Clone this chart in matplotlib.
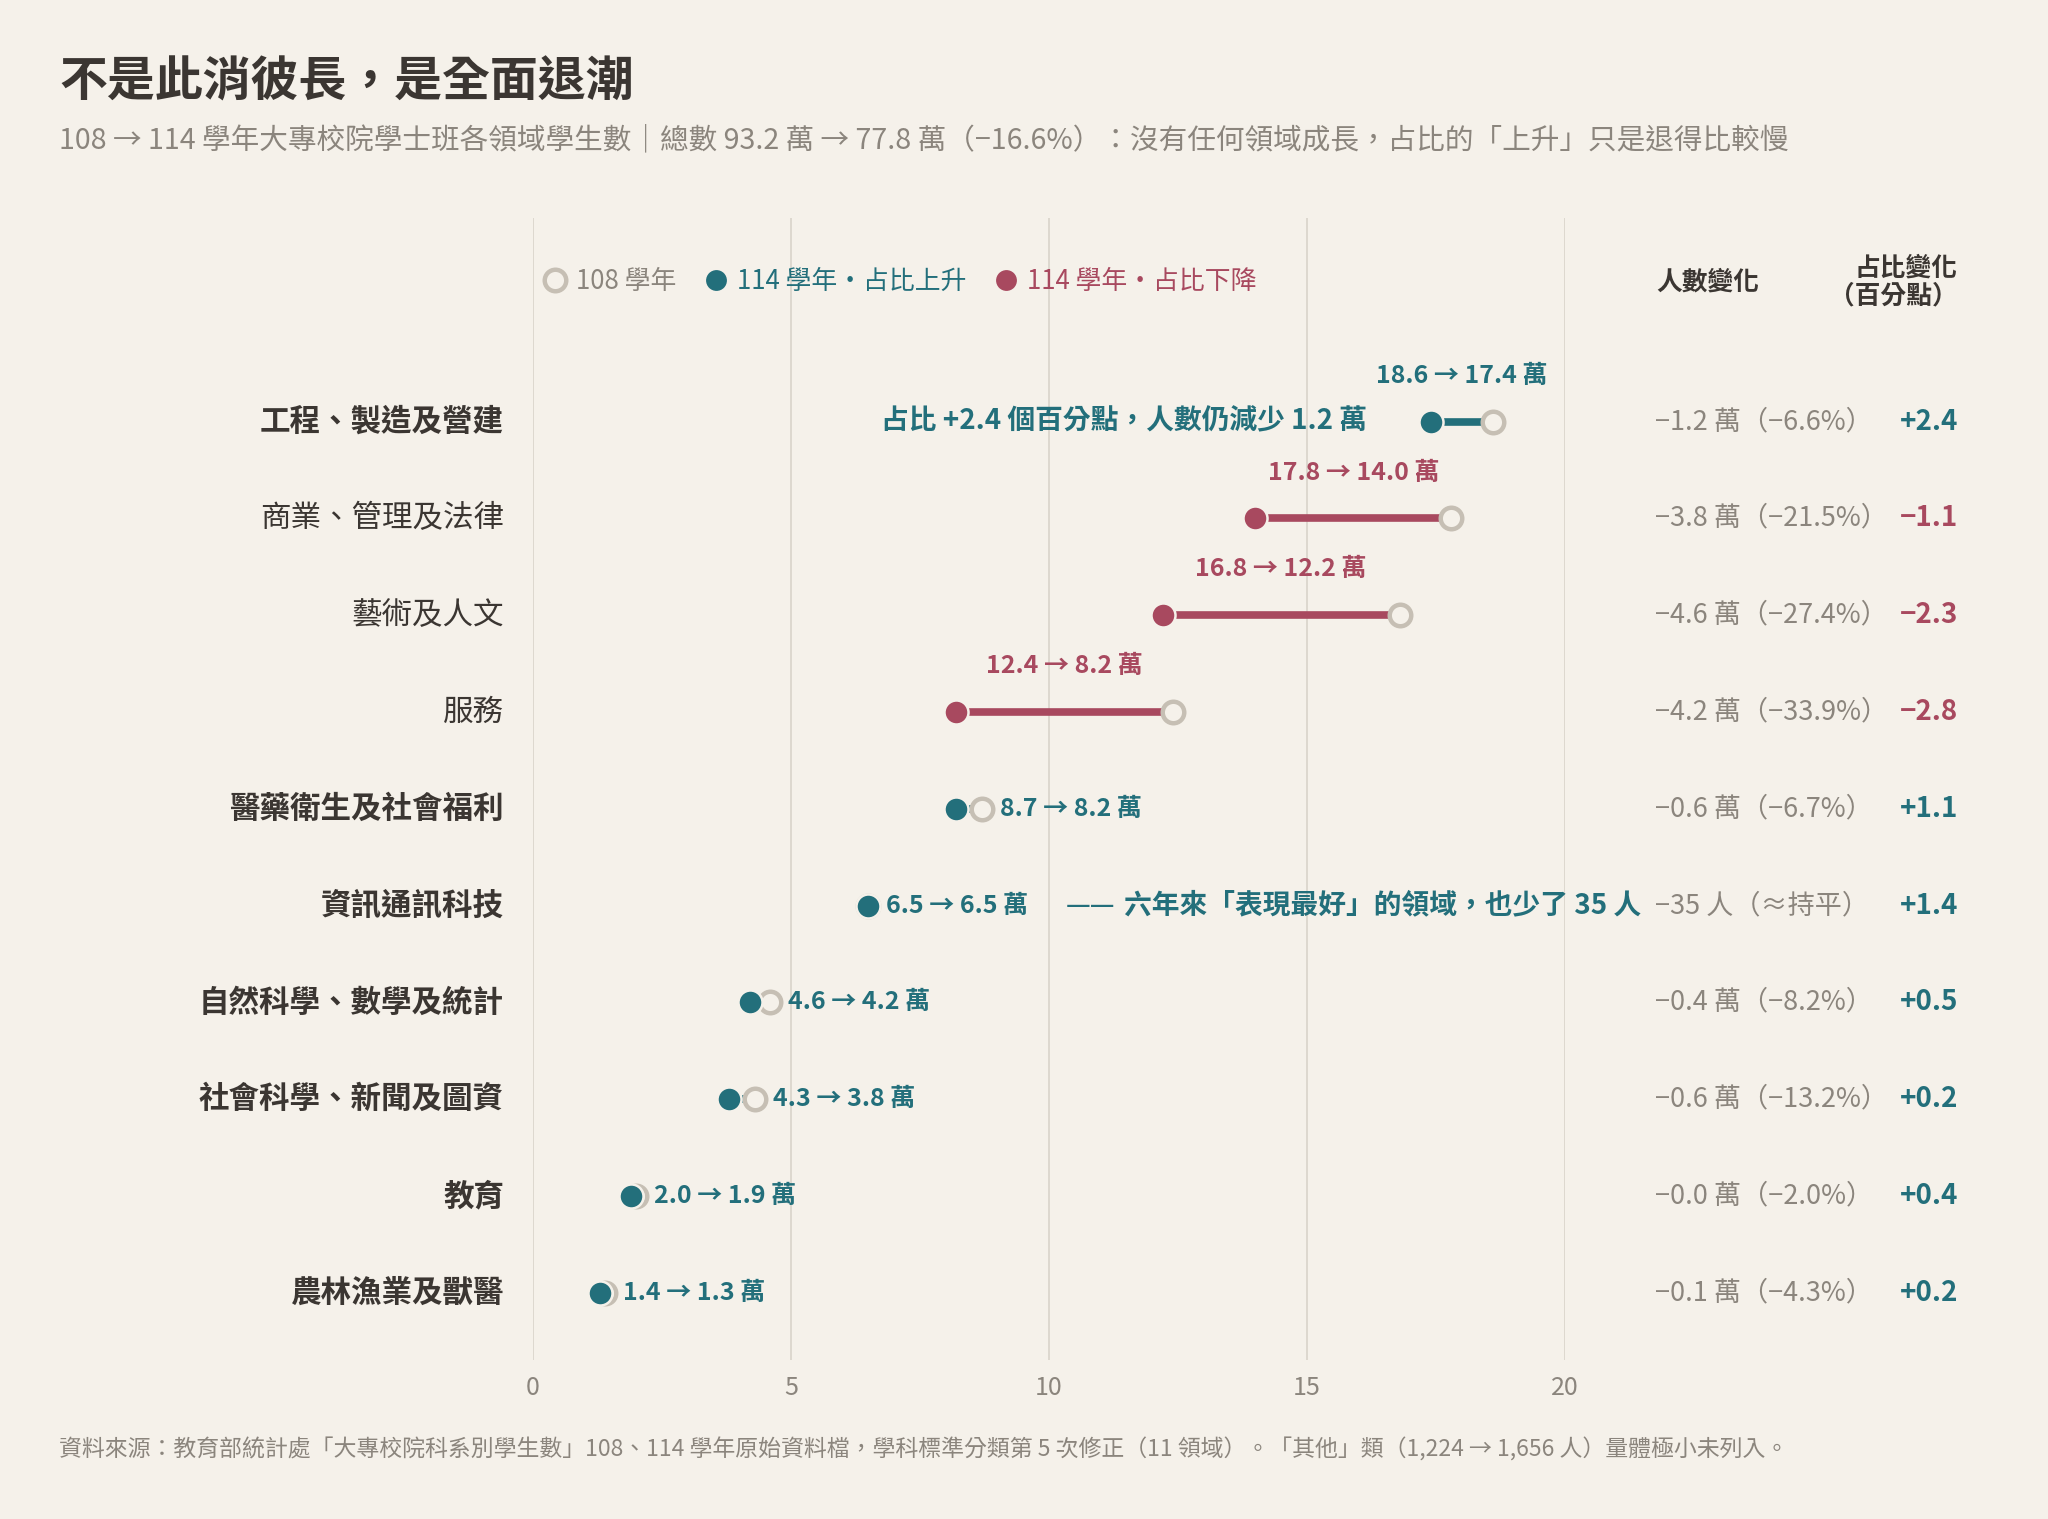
import matplotlib
matplotlib.use('Agg')
import matplotlib.pyplot as plt
from matplotlib.lines import Line2D
from matplotlib.transforms import blended_transform_factory

plt.rcParams['font.family'] = ['Noto Sans CJK TC', 'DejaVu Sans']

BG = '#f5f1ea'
TEAL = '#236f7b'
RED = '#a8495f'
RING = '#c6bfb4'
GRID = '#ddd8cf'
DARK = '#3b3632'
GRAY = '#8b857d'

# 學士班各領域學生數（萬人）
categories = ['工程、製造及營建', '商業、管理及法律', '藝術及人文', '服務',
              '醫藥衛生及社會福利', '資訊通訊科技', '自然科學、數學及統計',
              '社會科學、新聞及圖資', '教育', '農林漁業及獸醫']
v108 = [18.6, 17.8, 16.8, 12.4, 8.7, 6.5, 4.6, 4.3, 2.0, 1.4]
v114 = [17.4, 14.0, 12.2, 8.2, 8.2, 6.5, 4.2, 3.8, 1.9, 1.3]
share_pp = [2.4, -1.1, -2.3, -2.8, 1.1, 1.4, 0.5, 0.2, 0.4, 0.2]
count_change = ['−1.2 萬（−6.6%）', '−3.8 萬（−21.5%）', '−4.6 萬（−27.4%）',
                '−4.2 萬（−33.9%）', '−0.6 萬（−6.7%）', '−35 人（≈持平）',
                '−0.4 萬（−8.2%）', '−0.6 萬（−13.2%）', '−0.0 萬（−2.0%）',
                '−0.1 萬（−4.3%）']
xticks = [0, 5, 10, 15, 20]

W, H = 2048, 1519
fig = plt.figure(figsize=(W / 100, H / 100), dpi=100, facecolor=BG)
ax = fig.add_axes([533 / W, 1 - 1360 / H, 1032 / W, (1360 - 218) / H], facecolor=BG)

n = len(categories)
ys = list(range(n))
ax.set_xlim(0, 20)
ax.set_ylim(9.694, -2.103)

for s in ax.spines.values():
    s.set_visible(False)
ax.set_yticks([])
ax.set_xticks(xticks)
ax.xaxis.grid(True, color=GRID, lw=1.4)
ax.set_axisbelow(True)
ax.tick_params(axis='x', length=0, pad=11, labelsize=18, labelcolor=GRAY)

trans = blended_transform_factory(fig.transFigure, ax.transData)

ring_kw = dict(marker='o', ms=15.5, mfc=BG, mec=RING, mew=3.2)
dot_kw = dict(marker='o', ms=17.3, mec=BG, mew=1.8)

for i in ys:
    up = share_pp[i] > 0
    col = TEAL if up else RED
    a, b = v108[i], v114[i]
    ax.hlines(i, b, a, colors=col, lw=5.5, zorder=2)
    ax.plot(a, i, ls='none', zorder=3, **ring_kw)
    ax.plot(b, i, ls='none', mfc=col, zorder=4, **dot_kw)

    lab = f'{a:.1f} → {b:.1f} 萬'
    if a - b >= 1.0:
        ax.annotate(lab, ((a + b) / 2, i), xytext=(0, 33), textcoords='offset points',
                    ha='center', va='center', fontsize=18, fontweight='bold', color=col)
    else:
        ax.annotate(lab, (max(a, b), i), xytext=(13, 0), textcoords='offset points',
                    ha='left', va='center', fontsize=18, fontweight='bold', color=col)

    ax.text(504 / W, i, categories[i], transform=trans, ha='right', va='center',
            fontsize=22, color=DARK, fontweight='bold' if up else 'normal')
    ax.text(1655 / W, i, count_change[i], transform=trans, ha='left', va='center',
            fontsize=19.5, color=GRAY)
    sign = '+' if up else '−'
    ax.text(1958 / W, i, f'{sign}{abs(share_pp[i]):.1f}', transform=trans,
            ha='right', va='center', fontsize=20, fontweight='bold', color=col)

# annotations
ax.annotate('占比 +2.4 個百分點，人數仍減少 1.2 萬', (v114[0], 0), xytext=(-46, 0),
            textcoords='offset points', ha='right', va='center',
            fontsize=20, fontweight='bold', color=TEAL)
ax.annotate('——', (v114[5], 5), xytext=(142, 0), textcoords='offset points',
            ha='left', va='center', fontsize=20, color=TEAL)
ax.annotate('六年來「表現最好」的領域，也少了 35 人', (v114[5], 5), xytext=(184, 0),
            textcoords='offset points', ha='left', va='center',
            fontsize=20, fontweight='bold', color=TEAL)

# headers
ax.text(1656 / W, -1.446, '人數變化', transform=trans, ha='left', va='center',
        fontsize=18.5, fontweight='bold', color=DARK)
ax.text(1958 / W, -1.446, '占比變化\n（百分點）', transform=trans, ha='right', va='center',
        multialignment='right', fontsize=18.5, fontweight='bold', color=DARK,
        linespacing=1.05)

# legend
handles = [
    Line2D([], [], ls='none', **ring_kw),
    Line2D([], [], ls='none', marker='o', ms=15, color=TEAL, mec='none'),
    Line2D([], [], ls='none', marker='o', ms=15, color=RED, mec='none'),
]
leg = ax.legend(handles, ['108 學年', '114 學年・占比上升', '114 學年・占比下降'],
                loc='center left', bbox_to_anchor=(0.23, -1.446), bbox_transform=ax.transData,
                ncol=3, frameon=False, fontsize=18.6, handlelength=0.8,
                handletextpad=0.4, columnspacing=1.15, borderpad=0, borderaxespad=0)
for t, c in zip(leg.get_texts(), [GRAY, TEAL, RED]):
    t.set_color(c)

fig.text(59 / W, 1 - 82 / H, '不是此消彼長，是全面退潮', ha='left', va='center',
         fontsize=34.5, fontweight='bold', color=DARK)
fig.text(59 / W, 1 - 140.5 / H,
         '108 → 114 學年大專校院學士班各領域學生數｜總數 93.2 萬 → 77.8 萬（−16.6%）：'
         '沒有任何領域成長，占比的「上升」只是退得比較慢',
         ha='left', va='center', fontsize=20.6, color=GRAY)
fig.text(59 / W, 1 - 1450 / H,
         '資料來源：教育部統計處「大專校院科系別學生數」108、114 學年原始資料檔，'
         '學科標準分類第 5 次修正（11 領域）。「其他」類（1,224 → 1,656 人）量體極小未列入。',
         ha='left', va='center', fontsize=16.5, color=GRAY)

fig.savefig('out.png', dpi=100, facecolor=BG)
